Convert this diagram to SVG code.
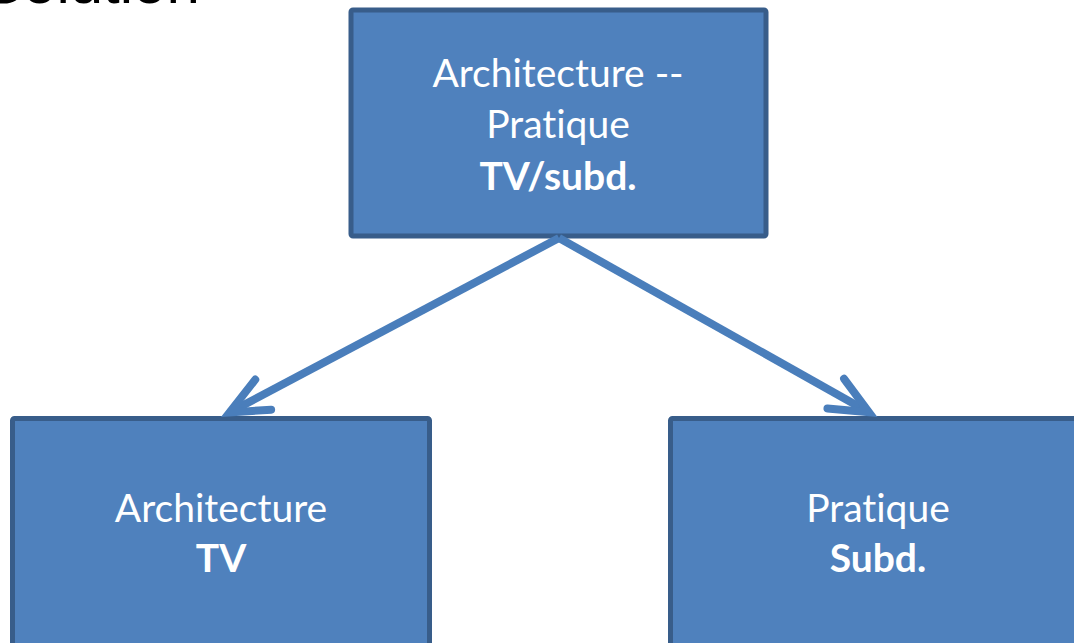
<svg xmlns="http://www.w3.org/2000/svg" width="1074" height="643" viewBox="0 0 1074 643">
<style>
.box{fill:#4f81bd;stroke:#385d8a;stroke-width:5}
.lbl{font-family:Lato,"Open Sans","Liberation Sans",sans-serif;font-size:39px;fill:#ffffff;text-anchor:middle;font-variant-ligatures:none;font-feature-settings:"liga" 0}
.b{font-weight:bold}
.conn{fill:none;stroke:#4a7ebb;stroke-width:8;stroke-linecap:butt}
</style>
<defs>
<marker id="open" markerUnits="userSpaceOnUse" orient="auto" refX="0" refY="0" markerWidth="80" markerHeight="80" overflow="visible">
<path d="M-38,-17 L0,0 L-38,17" fill="none" stroke="#4a7ebb" stroke-width="8" stroke-linecap="round" stroke-linejoin="miter"/>
</marker>
</defs>
<rect width="1074" height="643" fill="#ffffff"/>
<text x="-17" y="3" font-family="'Liberation Sans',sans-serif" font-size="60" fill="#000000">Solution</text>
<g id="top">
<rect class="box" x="351" y="10" width="415" height="226" rx="2"/>
<text class="lbl" x="558" y="87">Architecture --</text>
<text class="lbl" x="558" y="138">Pratique</text>
<text class="lbl b" x="558" y="190">TV/subd.</text>
</g>
<g id="left">
<rect class="box" x="12.5" y="418.5" width="417" height="240" rx="2"/>
<text class="lbl" x="221" y="522">Architecture</text>
<text class="lbl b" x="221" y="572">TV</text>
</g>
<g id="right">
<rect class="box" x="670.5" y="418.5" width="430" height="240" rx="2"/>
<text class="lbl" x="878" y="522">Pratique</text>
<text class="lbl b" x="878" y="572">Subd.</text>
</g>
<g id="connectors">
<path class="conn" d="M559,238 L229.6,412.4" marker-end="url(#open)"/>
<path class="conn" d="M559,238 L868.9,412.2" marker-end="url(#open)"/>
</g>
</svg>
